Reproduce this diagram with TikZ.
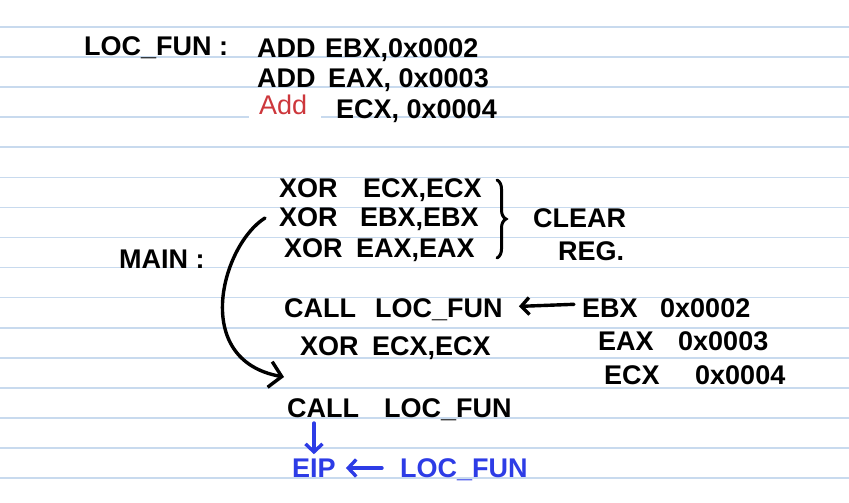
\documentclass[tikz,border=0pt]{standalone}
\usepackage{fontspec}
\setmainfont{Liberation Sans}
\usetikzlibrary{arrows.meta, positioning, decorations.pathreplacing}
\definecolor{ruleblue}{RGB}{200,218,238}
\definecolor{inkblue}{RGB}{45,60,230}
\definecolor{inkred}{RGB}{205,55,60}
\tikzset{
  hand/.style={font=\fontsize{27}{30}\selectfont\bfseries, anchor=base west, inner sep=0pt},
  pen/.style={line width=3.4pt, line cap=round},
  barb/.style={-{Straight Barb[length=8pt,width=17pt]}},
}

\begin{document}
\begin{tikzpicture}[x=1pt, y=-1pt]
  \useasboundingbox (0,0) rectangle (849,503);
  % ruled paper
  \foreach \i in {0,...,15}
    \draw[ruleblue, line width=1.6pt] (0,{27+30.07*\i}) -- (849,{27+30.07*\i});
  \fill[white] (249,91) rectangle (321,121);

  % the function
  \node[hand] (locfun) at (84,56) {LOC\_FUN :};
  \node[hand] (adda) at (257,58) {ADD};
  \node[hand] (opa) at (325,58) {EBX,0x0002};
  \node[hand] (addb) at (257,88) {ADD};
  \node[hand] (opb) at (328,88) {EAX, 0x0003};
  \node[anchor=base west, inner sep=0pt, text=inkred, font=\fontsize{27}{30}\selectfont] (addc) at (259,114) {Add};
  \node[hand] (opc) at (336,118) {ECX, 0x0004};

  % main
  \node[hand] (main) at (119,268) {MAIN :};
  \node[hand] (xora) at (279,197) {XOR};
  \node[hand] (clra) at (363,197) {ECX,ECX};
  \node[hand] (xorb) at (279,226) {XOR};
  \node[hand] (clrb) at (360,226) {EBX,EBX};
  \node[hand] (xorc) at (284,257) {XOR};
  \node[hand] (clrc) at (356,257) {EAX,EAX};
  \draw[pen, line width=3pt, decorate, decoration={brace, amplitude=9pt}] (497,180) -- (497,258);
  \node[hand] (clear) at (533,227) {CLEAR};
  \node[hand] (reg) at (558,260) {REG.};

  \node[hand] (calla) at (284,317) {CALL};
  \node[hand] (loca) at (375,317) {LOC\_FUN};
  \node[hand] (xord) at (300,355) {XOR};
  \node[hand] (clrd) at (372,355) {ECX,ECX};

  \node[hand] (ebx) at (582,317) {EBX};
  \node[hand] (ebxv) at (660,317) {0x0002};
  \node[hand] (eax) at (598,350) {EAX};
  \node[hand] (eaxv) at (678,350) {0x0003};
  \node[hand] (ecx) at (604,384) {ECX};
  \node[hand] (ecxv) at (695,384) {0x0004};
  \draw[pen, barb, shorten <=8pt, shorten >=16pt] ([yshift=13pt]ebx.base west) -- ([yshift=10pt]loca.base east);

  \node[hand] (callb) at (287,417) {CALL};
  \node[hand] (locb) at (384,417) {LOC\_FUN};

  % jump to the call
  \coordinate (jumpstart) at ([shift={(-14pt,8pt)}]xorb.base west);
  \coordinate (jumpend) at ([shift={(-3pt,40pt)}]callb.base west);
  \draw[pen, -{Straight Barb[length=12pt,width=26pt]}] (jumpstart) .. controls (222,245) and (190,360) .. (jumpend);

  % eip
  \node[hand, text=inkblue] (eip) at (292,477) {EIP};
  \node[hand, text=inkblue] (loceip) at (400,477) {LOC\_FUN};
  \draw[pen, inkblue, barb] (eip.north |- callb.base) ++(0,6) coordinate (eiptop) -- ([yshift=4pt]eip.north);
  \draw[pen, inkblue, barb, shorten <=18pt, shorten >=10pt] ([yshift=9pt]loceip.base west) -- ([yshift=9pt]eip.base east);
\end{tikzpicture}
\end{document}
